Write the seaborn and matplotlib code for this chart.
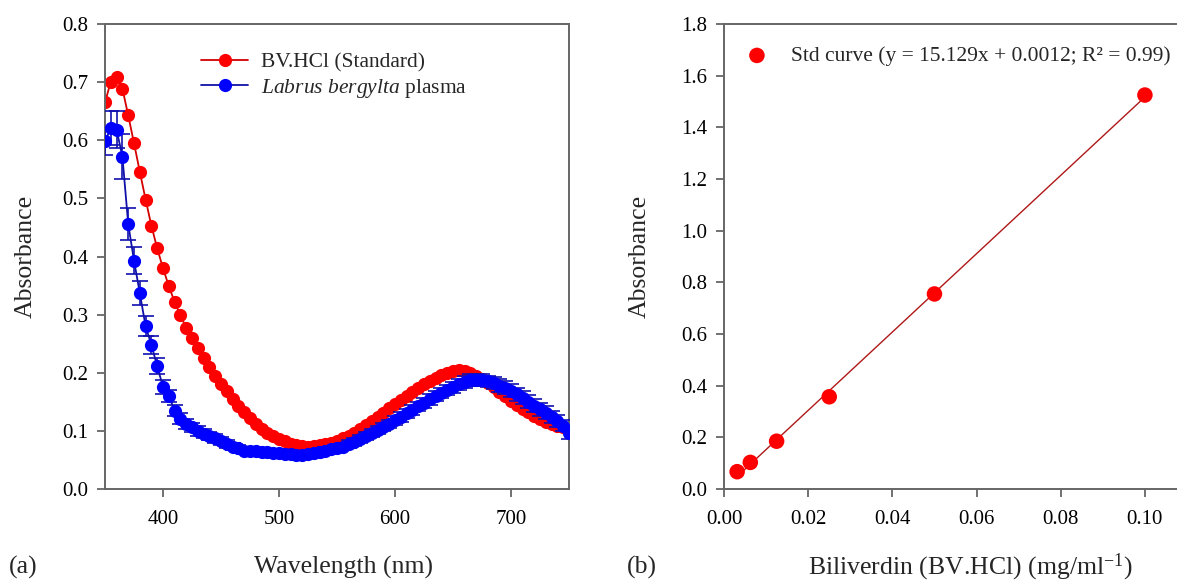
import numpy as np
import pandas as pd
import matplotlib
matplotlib.use("Agg")
import matplotlib.pyplot as plt
import seaborn as sns

# ---------------- data ----------------
wavelength = list(range(350, 755, 5))

bv_standard = [
    0.665, 0.701, 0.709, 0.689, 0.643, 0.595, 0.546, 0.498, 0.453, 0.414,
    0.380, 0.349, 0.322, 0.299, 0.277, 0.259, 0.242, 0.225, 0.210, 0.195,
    0.181, 0.168, 0.155, 0.143, 0.132, 0.122, 0.112, 0.104, 0.097, 0.091,
    0.086, 0.082, 0.078, 0.076, 0.074, 0.073, 0.074, 0.075, 0.077, 0.080,
    0.083, 0.087, 0.092, 0.097, 0.103, 0.110, 0.117, 0.124, 0.131, 0.139,
    0.146, 0.153, 0.160, 0.167, 0.174, 0.180, 0.186, 0.191, 0.196, 0.200,
    0.203, 0.204, 0.203, 0.200, 0.195, 0.189, 0.182, 0.175, 0.167, 0.160,
    0.152, 0.145, 0.138, 0.132, 0.126, 0.121, 0.116, 0.112, 0.109, 0.106,
    0.104,
]

labrus_plasma = [
    0.598, 0.621, 0.618, 0.572, 0.456, 0.393, 0.337, 0.280, 0.248, 0.211,
    0.176, 0.160, 0.135, 0.121, 0.112, 0.106, 0.100, 0.095, 0.091, 0.087,
    0.083, 0.078, 0.073, 0.070, 0.066, 0.066, 0.065, 0.064, 0.063, 0.062,
    0.062, 0.061, 0.060, 0.059, 0.058, 0.060, 0.062, 0.064, 0.066, 0.068,
    0.070, 0.073, 0.077, 0.081, 0.086, 0.091, 0.096, 0.101, 0.106, 0.112,
    0.118, 0.124, 0.130, 0.136, 0.142, 0.148, 0.154, 0.160, 0.165, 0.170,
    0.175, 0.180, 0.184, 0.187, 0.188, 0.187, 0.185, 0.182, 0.178, 0.174,
    0.169, 0.163, 0.157, 0.150, 0.143, 0.137, 0.131, 0.124, 0.117, 0.109,
    0.096,
]

labrus_sd = [
    0.024, 0.030, 0.032, 0.038, 0.028, 0.023, 0.020, 0.017, 0.015, 0.014,
    0.012, 0.011, 0.010, 0.009, 0.009, 0.008, 0.008, 0.008, 0.007, 0.007,
    0.007, 0.007, 0.006, 0.006, 0.006, 0.006, 0.006, 0.006, 0.006, 0.006,
    0.006, 0.006, 0.006, 0.006, 0.006, 0.006, 0.006, 0.006, 0.006, 0.006,
    0.006, 0.006, 0.007, 0.007, 0.007, 0.007, 0.007, 0.007, 0.007, 0.007,
    0.008, 0.008, 0.008, 0.008, 0.008, 0.008, 0.009, 0.009, 0.009, 0.009,
    0.009, 0.009, 0.010, 0.010, 0.010, 0.010, 0.010, 0.010, 0.011, 0.011,
    0.011, 0.011, 0.011, 0.011, 0.011, 0.011, 0.011, 0.011, 0.011, 0.010,
    0.010,
]

std_conc = [0.003125, 0.00625, 0.0125, 0.025, 0.05, 0.1]
std_abs = [0.067, 0.103, 0.185, 0.357, 0.755, 1.525]
std_sd = [0.010, 0.010, 0.010, 0.010, 0.010, 0.010]

left_xticks = [400, 500, 600, 700]
left_yticks = [0.0, 0.1, 0.2, 0.3, 0.4, 0.5, 0.6, 0.7, 0.8]
right_xticks = [0.00, 0.02, 0.04, 0.06, 0.08, 0.10]
right_yticks = [0.0, 0.2, 0.4, 0.6, 0.8, 1.0, 1.2, 1.4, 1.6, 1.8]

std_label = "Std curve (y = 15.129x + 0.0012; R\u00b2 = 0.99)"
labels = ["BV.HCl (Standard)", r"$\mathit{Labrus\ bergylta}$ plasma"]

# ---------------- style ----------------
sns.set_style("white")
plt.rcParams["font.family"] = ["Liberation Serif", "DejaVu Serif"]
plt.rcParams["mathtext.fontset"] = "custom"
plt.rcParams["mathtext.rm"] = "Liberation Serif"
plt.rcParams["mathtext.it"] = "Liberation Serif:italic"

SPINE = "#666666"
TICK_FS = 15
LABEL_FS = 18.5
LEG_FS = 15.5

fig = plt.figure(figsize=(11.77, 5.84), dpi=100)
ax1 = fig.add_axes([105 / 1177, 95 / 584, 464 / 1177, 465 / 584])
ax2 = fig.add_axes([724 / 1177, 95 / 584, 463 / 1177, 465 / 584])

df_spec = pd.DataFrame({
    "wavelength": wavelength * 2,
    "absorbance": bv_standard + labrus_plasma,
    "sample": [labels[0]] * len(wavelength) + [labels[1]] * len(wavelength),
})

# red standard
sns.lineplot(data=df_spec[df_spec["sample"] == labels[0]],
             x="wavelength", y="absorbance", ax=ax1, color="#d40000",
             marker="o", markersize=9.5, markeredgewidth=0,
             markerfacecolor="#ff0000", linewidth=1.3,
             label=labels[0], zorder=2)
# blue plasma with error bars
ax1.errorbar(wavelength, labrus_plasma, yerr=labrus_sd, fmt="none",
             ecolor="#1010b0", elinewidth=1.2, capsize=5.5, capthick=1.2,
             zorder=3)
sns.lineplot(data=df_spec[df_spec["sample"] == labels[1]],
             x="wavelength", y="absorbance", ax=ax1, color="#1010a8",
             marker="o", markersize=9.5, markeredgewidth=0,
             markerfacecolor="#0000ff", linewidth=1.3,
             label=labels[1], zorder=4)

ax1.set_xlim(350, 750)
ax1.set_ylim(0, 0.8)
ax1.set_xticks(left_xticks)
ax1.set_yticks(left_yticks)
ax1.set_yticklabels([f"{v:.1f}" for v in left_yticks])

ax1.legend(loc="upper left", bbox_to_anchor=((201 - 105) / 464, (489 - 52) / 465),
           frameon=False, fontsize=LEG_FS, handlelength=2.2,
           handletextpad=0.6, labelspacing=0.22, borderpad=0,
           borderaxespad=0)

# right: standard curve
ax2.errorbar(std_conc, std_abs, yerr=std_sd, xerr=[0.0009] * len(std_conc),
             fmt="none", ecolor="#ff0000", elinewidth=1.3, capsize=3,
             zorder=2.5)
sns.regplot(x=std_conc, y=std_abs, ax=ax2, ci=None, truncate=True,
            marker="o", label=std_label, color="#ff0000",
            scatter_kws={"s": 125, "color": "#ff0000", "edgecolors": "none",
                         "alpha": 1, "zorder": 3},
            line_kws={"color": "#b01818", "linewidth": 1.0, "zorder": 2})
ax2.set_xlim(0, 0.11)
ax2.set_ylim(0, 1.8)
ax2.set_xticks(right_xticks)
ax2.set_xticklabels([f"{v:.2f}" for v in right_xticks])
ax2.set_yticks(right_yticks)
ax2.set_yticklabels([f"{v:.1f}" for v in right_yticks])
h, l = ax2.get_legend_handles_labels()
keep = [(hh, ll) for hh, ll in zip(h, l) if ll == std_label][:1]
ax2.legend([k[0] for k in keep], [k[1] for k in keep],
           loc="upper left", bbox_to_anchor=((744 - 724) / 463, (489 - 46) / 465),
           frameon=False, fontsize=LEG_FS, handlelength=1.2,
           handletextpad=1.0, borderpad=0, borderaxespad=0, scatterpoints=1)

for ax in (ax1, ax2):
    for s in ax.spines.values():
        s.set_color(SPINE)
        s.set_linewidth(1.4)
        s.set_visible(True)
    ax.tick_params(axis="both", which="major", direction="out", length=6,
                   width=1.3, color=SPINE, labelsize=TICK_FS, pad=6,
                   bottom=True, left=True, top=False, right=False,
                   labelcolor="black")
    ax.tick_params(axis="x", pad=9)
    ax.grid(False)

ax1.set_xlabel("Wavelength (nm)", fontsize=LABEL_FS)
ax1.set_ylabel("Absorbance", fontsize=LABEL_FS)
ax2.set_xlabel(r"Biliverdin (BV.HCl) (mg/ml$^{\mathregular{-1}}$)", fontsize=LABEL_FS)
ax2.set_ylabel("Absorbance", fontsize=LABEL_FS)

ax1.xaxis.set_label_coords((344 - 105) / 464, (489 - 567) / 465)
ax1.xaxis.label.set_va("center")
ax2.xaxis.set_label_coords((970 - 724) / 463, (489 - 567) / 465)
ax2.xaxis.label.set_va("center")
ax1.yaxis.set_label_coords((26 - 105) / 464, 0.5)
ax1.yaxis.label.set_va("center")
ax2.yaxis.set_label_coords((640 - 724) / 463, 0.5)
ax2.yaxis.label.set_va("center")

fig.text(23 / 1177, 1 - 567 / 584, "(a)", fontsize=LABEL_FS, ha="center", va="center")
fig.text(642 / 1177, 1 - 567 / 584, "(b)", fontsize=LABEL_FS, ha="center", va="center")

fig.savefig("out.png", dpi=100)
